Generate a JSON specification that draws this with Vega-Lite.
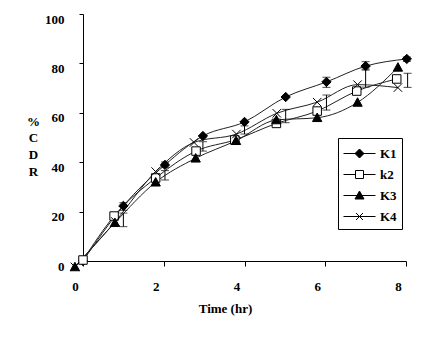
{
  "$schema": "https://vega.github.io/schema/vega-lite/v6.json",
  "autosize": "none",
  "padding": {"left": 83, "top": 14, "right": 29, "bottom": 79},
  "width": 323,
  "height": 247,
  "background": "white",
  "config": {"view": {"stroke": null}},
  "datasets": {
    "pts": [
      {"series": "K1", "t": 0, "v": 0},
      {"series": "K1", "t": 1.0, "v": 22.3},
      {"series": "K1", "t": 2.03, "v": 38.9},
      {"series": "K1", "t": 2.97, "v": 50.6},
      {"series": "K1", "t": 4.0, "v": 56.3},
      {"series": "K1", "t": 5.02, "v": 66.4},
      {"series": "K1", "t": 6.03, "v": 72.5},
      {"series": "K1", "t": 7.0, "v": 78.9},
      {"series": "K1", "t": 8.02, "v": 81.8},
      {"series": "k2", "t": 0, "v": 0.4},
      {"series": "k2", "t": 0.77, "v": 18.2},
      {"series": "k2", "t": 1.8, "v": 33.6},
      {"series": "k2", "t": 2.8, "v": 44.5},
      {"series": "k2", "t": 3.76, "v": 49},
      {"series": "k2", "t": 4.79, "v": 55.7},
      {"series": "k2", "t": 5.8, "v": 60.7},
      {"series": "k2", "t": 6.78, "v": 68.8},
      {"series": "k2", "t": 7.77, "v": 73.7},
      {"series": "K3", "t": -0.2, "v": -2.4},
      {"series": "K3", "t": 0.79, "v": 15.5},
      {"series": "K3", "t": 1.8, "v": 31.9},
      {"series": "K3", "t": 2.79, "v": 41.6},
      {"series": "K3", "t": 3.79, "v": 48.7},
      {"series": "K3", "t": 4.79, "v": 57.1},
      {"series": "K3", "t": 5.8, "v": 58},
      {"series": "K3", "t": 6.8, "v": 64.2},
      {"series": "K3", "t": 7.8, "v": 78.4},
      {"series": "K4", "t": -0.2, "v": -2.4},
      {"series": "K4", "t": 0.8, "v": 16},
      {"series": "K4", "t": 1.8, "v": 36.2},
      {"series": "K4", "t": 2.75, "v": 48},
      {"series": "K4", "t": 3.8, "v": 51.4},
      {"series": "K4", "t": 4.8, "v": 59.8},
      {"series": "K4", "t": 5.8, "v": 64.3},
      {"series": "K4", "t": 6.8, "v": 71.4},
      {"series": "K4", "t": 7.8, "v": 70.2}
    ],
    "err": [
      {"t": 1.0, "v": 20.5, "v2": 23.6},
      {"t": 1.0, "v": 13.9, "v2": 19.4},
      {"t": 2.03, "v": 38.0, "v2": 40.1},
      {"t": 2.03, "v": 32.8, "v2": 36.6},
      {"t": 2.97, "v": 44.5, "v2": 48.3},
      {"t": 4.0, "v": 51.4, "v2": 54.7},
      {"t": 5.02, "v": 56.0, "v2": 61.4},
      {"t": 6.03, "v": 70.3, "v2": 74.4},
      {"t": 6.03, "v": 61.1, "v2": 67.2},
      {"t": 7.0, "v": 77.7, "v2": 80.7},
      {"t": 7.0, "v": 70.4, "v2": 77.3},
      {"t": 8.04, "v": 70.3, "v2": 76.0},
      {"t": 8.02, "v": 80.8, "v2": 82.6}
    ]
  },
  "encoding": {
    "x": {
      "field": "t", "type": "quantitative",
      "scale": {"domain": [0, 8], "nice": false, "zero": false},
      "axis": {
        "values": [0, 2, 4, 6, 8], "grid": false, "title": "Time (hr)",
        "domainColor": "black", "tickColor": "black", "tickSize": 5,
        "labelFont": "Liberation Serif", "labelFontWeight": "bold", "labelFontSize": 13, "labelColor": "black",
        "labelOffset": -8, "labelFlush": false, "labelPadding": 14,
        "titleFont": "Liberation Serif", "titleFontWeight": "bold", "titleFontSize": 13, "titleColor": "black",
        "titleX": 142, "titleY": 41, "titleAlign": "center", "titleBaseline": "top"
      }
    },
    "y": {
      "field": "v", "type": "quantitative",
      "scale": {"domain": [0, 100], "nice": false, "zero": false},
      "axis": {
        "values": [0, 20, 40, 60, 80, 100], "grid": false, "title": ["%", "C", "D", "R"],
        "domainColor": "black", "tickColor": "black", "tickSize": 4,
        "labelFont": "Liberation Serif", "labelFontWeight": "bold", "labelFontSize": 13, "labelColor": "black",
        "labelPadding": 15, "labelOffset": 5, "labelFlush": false,
        "titleFont": "Liberation Serif", "titleFontWeight": "bold", "titleFontSize": 13, "titleColor": "black",
        "titleAngle": 0, "titleX": -50, "titleY": 101, "titleAlign": "center", "titleBaseline": "top", "titleLineHeight": 16.7
      }
    }
  },
  "layer": [
    {
      "data": {"name": "pts"},
      "mark": {"type": "line", "interpolate": "monotone", "color": "#222", "strokeWidth": 1},
      "encoding": {"detail": {"field": "series"}}
    },
    {
      "data": {"name": "err"},
      "mark": {"type": "errorbar", "color": "black", "thickness": 1, "ticks": {"size": 8, "color": "black", "thickness": 1}},
      "encoding": {"y2": {"field": "v2"}}
    },
    {
      "data": {"name": "pts"},
      "mark": {"type": "point", "filled": true, "opacity": 1, "stroke": "black", "strokeWidth": 1, "size": 72},
      "encoding": {
        "shape": {
          "field": "series", "type": "nominal",
          "scale": {
            "domain": ["K1", "k2", "K3", "K4"],
            "range": ["M0,-1.1L1.1,0L0,1.1L-1.1,0Z", "M-1,-1H1V1H-1Z", "M0,-1.1L1.1,0.9H-1.1Z", "M-1,-1L1,1M-1,1L1,-1"]
          },
          "legend": null
        },
        "fill": {
          "field": "series", "type": "nominal",
          "scale": {"domain": ["K1", "k2", "K3", "K4"], "range": ["black", "white", "black", "transparent"]},
          "legend": null
        }
      }
    },
    {
      "data": {"name": "pts"},
      "mark": {"type": "point", "filled": true, "opacity": 0, "strokeWidth": 1, "size": 400},
      "encoding": {
        "shape": {
          "field": "series", "type": "nominal",
          "scale": {
            "domain": ["K1", "k2", "K3", "K4"],
            "range": ["M-1,0H2.2M0.6,-0.45L1.05,0L0.6,0.45L0.15,0Z", "M-1,0H0.2M1,0H2.2M0.2,-0.4H1V0.4H0.2Z", "M-1,0H2.2M0.6,-0.45L1.05,0.35H0.15Z", "M-1,0H2.2M0.25,-0.35L0.95,0.35M0.25,0.35L0.95,-0.35"]
          },
          "legend": {
            "title": null, "orient": "none", "legendX": 255, "legendY": 124,
            "strokeColor": "black", "fillColor": "white", "padding": 5, "cornerRadius": 0,
            "symbolSize": 400, "rowPadding": 3, "columnPadding": 0, "labelOffset": 16,
            "symbolOpacity": 1, "symbolStrokeWidth": 1,
            "labelFont": "Liberation Serif", "labelFontWeight": "bold", "labelFontSize": 13, "labelColor": "black"
          }
        },
        "fill": {
          "field": "series", "type": "nominal",
          "scale": {"domain": ["K1", "k2", "K3", "K4"], "range": ["black", "white", "black", "transparent"]},
          "legend": {
            "title": null, "orient": "none", "legendX": 255, "legendY": 124,
            "strokeColor": "black", "fillColor": "white", "padding": 5, "cornerRadius": 0,
            "symbolSize": 400, "rowPadding": 3, "columnPadding": 0, "labelOffset": 16,
            "symbolOpacity": 1, "symbolStrokeWidth": 1,
            "labelFont": "Liberation Serif", "labelFontWeight": "bold", "labelFontSize": 13, "labelColor": "black"
          }
        },
        "stroke": {
          "field": "series", "type": "nominal",
          "scale": {"domain": ["K1", "k2", "K3", "K4"], "range": ["black", "black", "black", "black"]},
          "legend": {
            "title": null, "orient": "none", "legendX": 255, "legendY": 124,
            "strokeColor": "black", "fillColor": "white", "padding": 5, "cornerRadius": 0,
            "symbolSize": 400, "rowPadding": 3, "columnPadding": 0, "labelOffset": 16,
            "symbolOpacity": 1, "symbolStrokeWidth": 1,
            "labelFont": "Liberation Serif", "labelFontWeight": "bold", "labelFontSize": 13, "labelColor": "black"
          }
        }
      }
    }
  ],
  "resolve": {"scale": {"shape": "independent", "fill": "independent", "stroke": "independent"}}
}
